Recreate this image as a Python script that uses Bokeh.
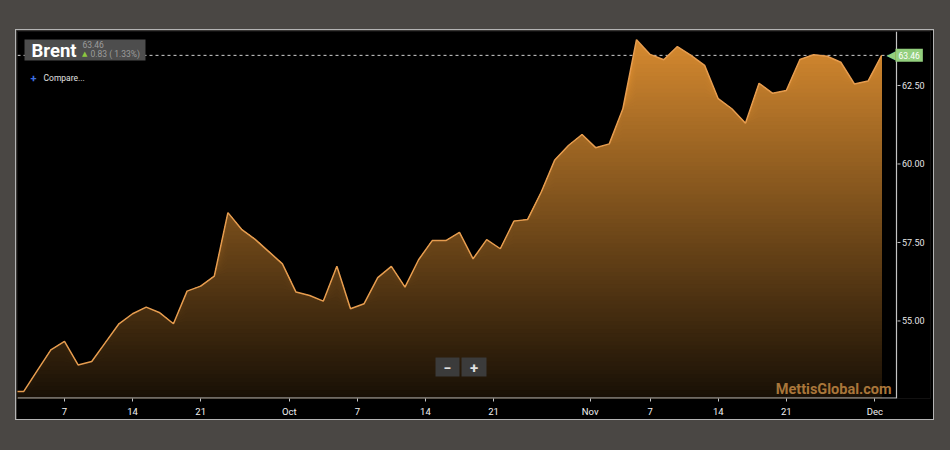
import numpy as np
from bokeh.plotting import figure
from bokeh.models import Range1d, FixedTicker, Label, BoxAnnotation
from bokeh.core.properties import value
from bokeh.embed import file_html
from bokeh.resources import INLINE

# ---- data (Brent, trading days 1 Sep 2017 .. 1 Dec 2017) ----
values = [52.76, 52.75, 53.42, 54.08, 54.35, 53.60, 53.71, 54.31, 54.91, 55.23,
          55.44, 55.26, 54.91, 55.95, 56.11, 56.43, 58.45, 57.92, 57.60, 57.21,
          56.82, 55.92, 55.81, 55.63, 56.74, 55.39, 55.55, 56.38, 56.74, 56.08,
          56.95, 57.56, 57.56, 57.82, 56.98, 57.59, 57.30, 58.18, 58.23, 59.10,
          60.13, 60.59, 60.94, 60.52, 60.64, 61.76, 63.96, 63.49, 63.32, 63.74,
          63.46, 63.14, 62.08, 61.76, 61.30, 62.57, 62.25, 62.34, 63.33, 63.48,
          63.43, 63.24, 62.55, 62.64, 63.46]
x_tick_labels = ["7", "14", "21", "Oct", "7", "14", "21", "Nov", "7", "14", "21", "Dec"]
x_tick_pos = [4, 9, 14, 20.5, 25.5, 30.5, 35.5, 42.6, 47, 52, 57, 63.5]
y_ticks = [55.0, 57.5, 60.0, 62.5]
y_tick_labels = ["55.00", "57.50", "60.00", "62.50"]
last_value = 63.46
change_text = "0.83 ( 1.33%)"
series_name = "Brent"

x = np.arange(len(values))
v = np.array(values)

# frame in page pixels, used only to place the decorations
FL, FR, FT, FB = 17, 930, 31, 398
X0, X1 = 0.55, 67.586
Y0, Y1 = 52.53, 64.22


def dx(px):
    return X0 + (px - FL) * (X1 - X0) / (FR - FL)


def dy(py):
    return Y1 - (py - FT) * (Y1 - Y0) / (FB - FT)


FONT = "Roboto"
AXIS_C = "#c4c4c4"

p = figure(width=917, height=389, x_range=Range1d(X0, X1), y_range=Range1d(Y0, Y1),
           y_axis_location=None, output_backend="svg", toolbar_location=None,
           min_border_left=1, min_border_top=1, min_border_right=3, min_border_bottom=21,
           background_fill_color="#000000", border_fill_color="#000000",
           outline_line_color=None)
p.title.visible = False
p.styles = {"outline": "1px solid #b4b4b4"}
p.xgrid.visible = False
p.ygrid.visible = False

# dashed last-price line (behind the area)
p.segment(x0=[X0], x1=[dx(889)], y0=[last_value], y1=[last_value], line_color="#cfcfcf",
          line_dash="3 3", line_width=1, level="underlay")

# gradient area built from stacked bands
top_c = np.array([214, 138, 48])
bot_c = np.array([24, 16, 6])
vmax = max(values)
edges = np.linspace(Y0, Y1, 91)
for k in range(len(edges) - 2, -1, -1):
    center = 0.5 * (edges[k] + edges[k + 1])
    t = np.clip((center - Y0) / (vmax - Y0), 0, 1)
    c = (bot_c + (top_c - bot_c) * t).astype(int)
    col = "#%02x%02x%02x" % tuple(c)
    p.varea(x=x, y1=np.full(len(v), Y0), y2=np.minimum(v, edges[k + 1]), fill_color=col)

p.line(x, v, line_color="#e59c4f", line_width=1.5)

# x axis (bokeh axis, line drawn separately so it stops at the price axis)
p.xaxis.ticker = FixedTicker(ticks=x_tick_pos)
p.xaxis.major_label_overrides = {pos: lab for pos, lab in zip(x_tick_pos, x_tick_labels)}
p.xaxis.minor_tick_line_color = None
p.xaxis.major_tick_in = 0
p.xaxis.major_tick_out = 3
p.xaxis.axis_line_color = None
p.xaxis.major_tick_line_color = AXIS_C
p.xaxis.major_label_text_color = "#f2f2f2"
p.xaxis.major_label_text_font = FONT
p.xaxis.major_label_text_font_size = "9.5px"
p.xaxis.major_label_standoff = 4

x_axis_x = dx(896)
p.segment(x0=[X0], x1=[x_axis_x], y0=[dy(397.6)], y1=[dy(397.6)], line_color=AXIS_C, line_width=1.2)
# price axis on the right
p.segment(x0=[x_axis_x], x1=[x_axis_x], y0=[Y0], y1=[Y1], line_color=AXIS_C, line_width=1.2)
p.segment(x0=[dx(897)] * len(y_ticks), x1=[dx(900)] * len(y_ticks), y0=y_ticks, y1=y_ticks,
          line_color=AXIS_C, line_width=1)
p.text(x=[dx(901.5)] * len(y_ticks), y=y_ticks, text=y_tick_labels, text_font=value(FONT),
       text_font_size="9px", text_color="#e6e6e6", text_baseline="middle", text_align="left")

# title box
p.add_layout(BoxAnnotation(left=dx(24), right=dx(145), top=dy(39), bottom=dy(60),
                           fill_color="#4d4d4d", fill_alpha=1.0, line_color=None))
p.add_layout(Label(x=dx(31), y=dy(50), text=series_name, text_font=FONT,
                   text_font_style="bold", text_font_size="18.5px", text_color="#ffffff",
                   text_baseline="middle"))
p.add_layout(Label(x=dx(82), y=dy(44), text="%.2f" % last_value, text_font=FONT,
                   text_font_size="8.5px", text_color="#9c9c9c", text_baseline="middle"))
p.add_layout(Label(x=dx(81.5), y=dy(53.5), text="▲", text_font="DejaVu Sans",
                   text_font_size="7px", text_color="#8cc63f", text_baseline="middle"))
p.add_layout(Label(x=dx(90), y=dy(53), text=change_text, text_font=FONT,
                   text_font_size="8.5px", text_color="#9c9c9c", text_baseline="middle"))

# compare
p.add_layout(Label(x=dx(30), y=dy(77), text="+", text_font=FONT, text_font_style="bold",
                   text_font_size="11px", text_color="#3d6fe0", text_baseline="middle"))
p.add_layout(Label(x=dx(43), y=dy(77), text="Compare...", text_font=FONT,
                   text_font_size="8.5px", text_color="#e0e0e0", text_baseline="middle"))

# zoom buttons
p.add_layout(BoxAnnotation(left=dx(435), right=dx(459), top=dy(357), bottom=dy(376),
                           fill_color="#3b3b3b", fill_alpha=1.0, line_color=None))
p.add_layout(BoxAnnotation(left=dx(461), right=dx(486), top=dy(357), bottom=dy(376),
                           fill_color="#3b3b3b", fill_alpha=1.0, line_color=None))
p.add_layout(Label(x=dx(447), y=dy(367), text="−", text_font=FONT, text_font_style="bold",
                   text_font_size="14px", text_color="#e0e0e0", text_align="center",
                   text_baseline="middle"))
p.add_layout(Label(x=dx(473.5), y=dy(367), text="+", text_font=FONT, text_font_style="bold",
                   text_font_size="15px", text_color="#e0e0e0", text_align="center",
                   text_baseline="middle"))

# watermark
p.add_layout(Label(x=dx(891), y=dy(389), text="MettisGlobal.com", text_font=FONT,
                   text_font_style="bold", text_font_size="14.5px", text_color="#a9763a",
                   text_align="right", text_baseline="middle"))

# last price callout
p.add_layout(Label(x=dx(886), y=last_value, text="◀", text_font="DejaVu Sans",
                   text_font_size="12px", text_color="#93cf7e", text_align="left",
                   text_baseline="middle"))
p.add_layout(Label(x=dx(895), y=last_value, text="%.2f" % last_value, text_font=FONT,
                   text_font_size="8.5px", text_color="#ffffff", text_align="left",
                   text_baseline="middle", background_fill_color="#93cf7e",
                   background_fill_alpha=1.0, padding=3))

html = file_html(p, INLINE, title="Brent")
html = html.replace(
    "</head>",
    "<style>html,body{background:#4a4744;} body{margin:0 !important;padding:30px 0 0 16px;}</style></head>",
    1)
open("out.html", "w").write(html)
